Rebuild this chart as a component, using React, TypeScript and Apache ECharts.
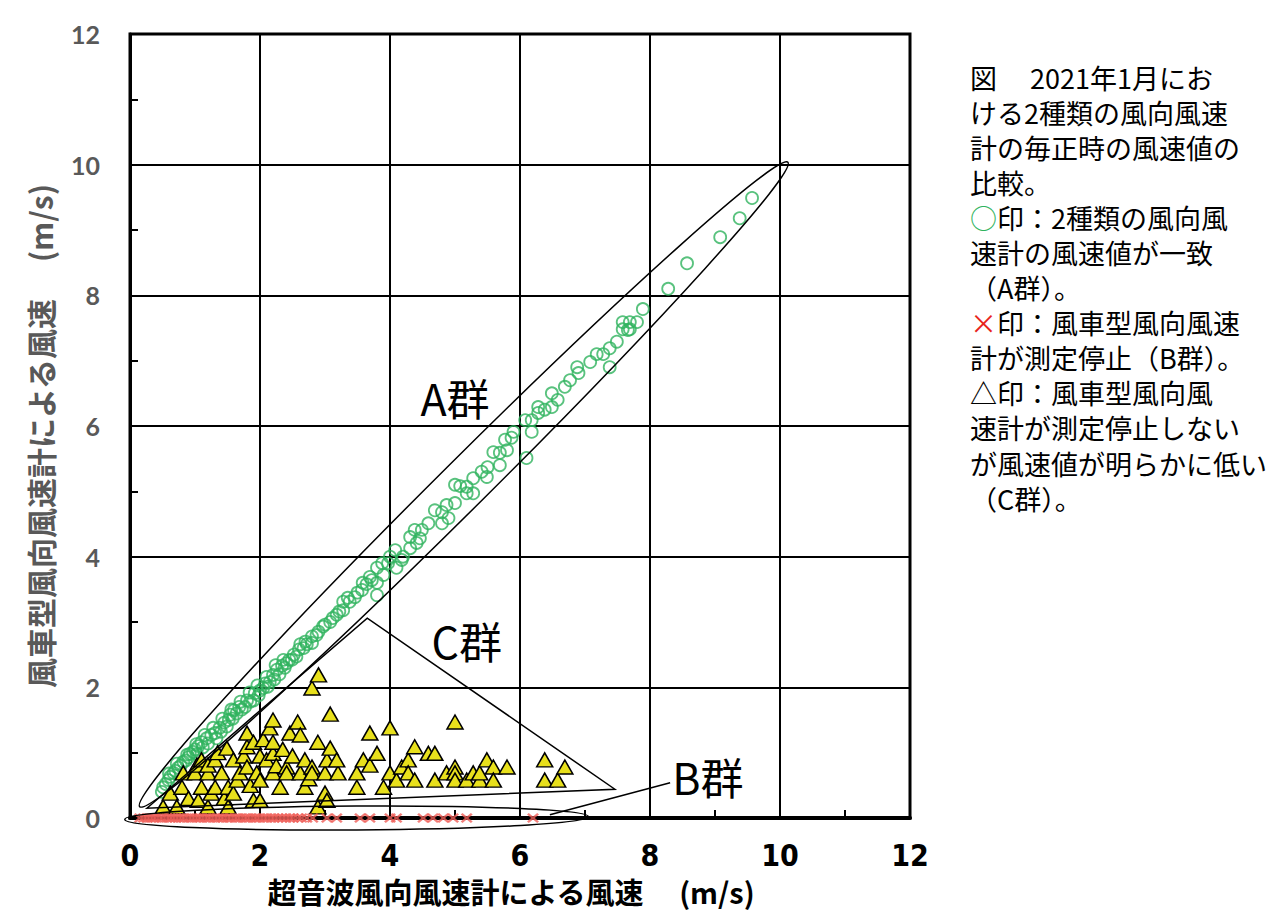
import React, { useEffect, useRef } from "react";
import * as echarts from "echarts";

// ---- data ----
const axisMin = 0;
const axisMax = 12;
const axisStep = 2;

// A群: both anemometers agree (green hollow circles)
const groupA: number[][] = [
  [0.49, 0.40], [0.51, 0.47], [0.55, 0.52], [0.59, 0.58], [0.62, 0.63], [0.67, 0.69], [0.70, 0.72],
  [0.74, 0.77], [0.78, 0.80], [0.82, 0.86], [0.86, 0.88], [0.90, 0.93], [0.92, 0.98], [0.97, 1.01],
  [1.00, 1.05], [1.03, 0.98], [1.05, 1.10], [1.10, 1.16], [1.12, 1.08], [1.18, 1.22], [1.20, 1.14],
  [1.25, 1.27], [1.31, 1.30], [1.33, 1.22], [1.38, 1.38], [1.40, 1.32], [1.45, 1.46], [1.49, 1.40],
  [1.52, 1.50], [1.54, 1.58], [1.58, 1.52], [1.60, 1.65], [1.64, 1.60], [1.68, 1.70], [1.72, 1.66],
  [1.77, 1.70], [1.80, 1.80], [1.85, 1.78], [1.90, 1.80], [1.92, 1.91], [1.98, 1.88], [2.00, 1.95],
  [2.05, 1.99], [2.08, 2.06], [2.12, 2.01], [2.15, 2.08], [2.20, 2.19], [2.22, 2.12], [2.26, 2.27],
  [2.30, 2.20], [2.34, 2.33], [2.38, 2.30], [2.41, 2.37], [2.45, 2.42], [2.49, 2.42], [2.52, 2.50],
  [2.56, 2.47], [2.60, 2.58], [2.62, 2.66], [2.67, 2.60], [2.70, 2.70], [2.72, 2.66], [2.80, 2.68],
  [2.80, 2.78], [2.87, 2.80], [2.90, 2.85], [2.97, 2.93], [3.00, 2.96], [3.08, 3.00], [3.12, 3.06],
  [3.18, 3.11], [3.22, 3.16], [3.28, 3.18], [3.28, 3.31], [3.35, 3.37], [3.38, 3.31], [3.46, 3.38],
  [3.50, 3.45], [3.57, 3.49], [3.58, 3.60], [3.64, 3.58], [3.69, 3.69], [3.72, 3.64], [3.80, 3.60],
  [3.80, 3.41], [3.80, 3.83], [3.88, 3.90], [3.90, 3.72], [3.97, 3.90], [4.00, 4.00], [4.08, 4.10],
  [4.10, 3.83], [4.18, 3.95], [4.20, 4.00], [4.31, 4.13], [4.31, 4.30], [4.38, 4.41], [4.41, 4.21],
  [4.46, 4.28], [4.49, 4.41], [4.59, 4.51], [4.69, 4.71], [4.80, 4.51], [4.80, 4.68], [4.87, 4.79],
  [4.90, 4.59], [5.00, 4.82], [5.00, 5.10], [5.08, 5.08], [5.18, 4.97], [5.18, 5.07], [5.28, 4.97],
  [5.28, 5.20], [5.41, 5.30], [5.49, 5.22], [5.50, 5.37], [5.59, 5.60], [5.69, 5.40], [5.69, 5.59],
  [5.77, 5.79], [5.80, 5.63], [5.87, 5.82], [5.90, 5.91], [6.08, 6.09], [6.10, 5.51], [6.18, 5.91],
  [6.18, 6.09], [6.28, 6.29], [6.28, 6.20], [6.38, 6.25], [6.49, 6.50], [6.49, 6.29], [6.58, 6.40],
  [6.69, 6.60], [6.77, 6.70], [6.88, 6.90], [6.90, 6.81], [7.08, 6.98], [7.18, 7.10], [7.28, 7.10],
  [7.38, 7.19], [7.38, 6.90], [7.49, 7.29], [7.58, 7.59], [7.58, 7.48], [7.66, 7.47], [7.69, 7.59],
  [7.69, 7.48], [7.80, 7.59], [7.89, 7.79], [8.28, 8.10], [8.57, 8.49], [9.08, 8.89], [9.38, 9.18],
  [9.57, 9.49],
  [0.60, 0.68], [0.72, 0.83], [0.88, 0.97], [1.02, 1.13], [1.15, 1.27], [1.28, 1.38], [1.42, 1.52],
  [1.56, 1.66], [1.70, 1.78], [1.84, 1.92], [1.96, 2.03], [2.10, 2.16], [2.24, 2.34], [2.36, 2.42],
];

// C群: wind-turbine anemometer clearly low (yellow triangles)
const groupC: number[][] = [
  [0.51, 0.17], [0.62, 0.38], [0.72, 0.17], [0.80, 0.47], [0.82, 0.69], [0.90, 0.30], [1.00, 0.69],
  [1.03, 0.81], [1.05, 0.27], [1.10, 0.47], [1.10, 0.89], [1.20, 0.17], [1.20, 0.69], [1.20, 0.81],
  [1.25, 0.38], [1.31, 0.47], [1.31, 0.89], [1.35, 1.00], [1.41, 0.69], [1.45, 0.30], [1.49, 1.07],
  [1.51, 0.17], [1.51, 0.47], [1.59, 0.89], [1.59, 0.38], [1.65, 0.58], [1.69, 0.69], [1.75, 0.95],
  [1.80, 0.78], [1.80, 1.09], [1.80, 1.30], [1.85, 0.50], [1.90, 0.27], [1.90, 1.16], [1.95, 0.69],
  [2.00, 0.27], [2.00, 0.58], [2.00, 0.95], [2.05, 1.20], [2.10, 0.89], [2.15, 1.38], [2.20, 0.69],
  [2.20, 0.99], [2.20, 1.16], [2.20, 1.50], [2.25, 0.80], [2.31, 0.47], [2.35, 1.05], [2.41, 0.78],
  [2.41, 0.69], [2.46, 1.30], [2.50, 0.95], [2.58, 1.47], [2.62, 0.69], [2.62, 1.27], [2.69, 0.47],
  [2.69, 0.89], [2.75, 0.60], [2.80, 0.78], [2.80, 0.69], [2.80, 1.99], [2.89, 0.17], [2.89, 1.16],
  [2.90, 2.19], [3.00, 0.38], [3.00, 0.69], [3.03, 0.27], [3.03, 0.89], [3.08, 1.07], [3.08, 1.59],
  [3.20, 0.69], [3.18, 0.89], [3.49, 0.47], [3.49, 0.69], [3.59, 0.89], [3.69, 0.81], [3.69, 1.30],
  [3.80, 0.99], [3.90, 0.47], [4.00, 0.69], [4.00, 1.38], [4.10, 0.58], [4.18, 0.78], [4.28, 0.89],
  [4.28, 0.69], [4.38, 1.09], [4.38, 0.58], [4.59, 0.99], [4.69, 0.99], [4.69, 0.58], [4.87, 0.69],
  [5.00, 0.78], [5.00, 0.69], [5.00, 0.58], [5.00, 1.47], [5.18, 0.58], [5.28, 0.69], [5.38, 0.58],
  [5.38, 0.69], [5.49, 0.89], [5.59, 0.78], [5.59, 0.58], [5.80, 0.78], [6.38, 0.89], [6.38, 0.58],
  [6.58, 0.58], [6.69, 0.78],
];

// B群: wind-turbine anemometer stopped (red crosses, y = 0)
const groupBX: number[] = [
  0.15, 0.21, 0.26, 0.31, 0.36, 0.40, 0.46, 0.50, 0.56, 0.61, 0.65, 0.70, 0.75, 0.80, 0.84, 0.90,
  0.95, 1.00, 1.05, 1.09, 1.15, 1.20, 1.24, 1.30, 1.35, 1.40, 1.44, 1.50, 1.55, 1.61, 1.65, 1.70,
  1.76, 1.80, 1.85, 1.91, 1.95, 2.00, 2.06, 2.11, 2.17, 2.22, 2.28, 2.34, 2.40, 2.46, 2.51, 2.58,
  2.64, 2.72, 2.81, 3.03, 3.18, 3.54, 3.69, 4.00, 4.10, 4.51, 4.66, 4.82, 4.97, 5.18, 6.20,
];
const groupBY: number[] = groupBX.map(() => 0);

const legendLines: string[] = [
  "図　 2021年1月にお",
  "ける2種類の風向風速",
  "計の毎正時の風速値の",
  "比較。",
  "{g|○}印：2種類の風向風",
  "速計の風速値が一致",
  "（A群）。",
  "{r|×}印：風車型風向風速",
  "計が測定停止（B群）。",
  "△印：風車型風向風",
  "速計が測定停止しない",
  "が風速値が明らかに低い",
  "（C群）。",
];

const xTitle = "超音波風向風速計による風速　 (m/s)";
const yTitle = "風車型風向風速計による風速　 (m/s)";

const GREEN = "#2fb35e";
const YELLOW = "#e8e01c";
const RED = "#f0605a";
const GRAY = "#595959";
const JP = "'Noto Sans CJK JP', 'Noto Sans', sans-serif";
const CROSS = "path://M0,1.5L1.5,0L5,3.5L8.5,0L10,1.5L6.5,5L10,8.5L8.5,10L5,6.5L1.5,10L0,8.5L3.5,5Z";

export default function App() {
  const ref = useRef<HTMLDivElement>(null);
  useEffect(() => {
    const chart = echarts.init(ref.current as HTMLDivElement, undefined, { renderer: "svg" });
    const axisCommon = {
      type: "value",
      min: axisMin,
      max: axisMax,
      interval: axisStep,
      axisLine: { show: true, onZero: false, lineStyle: { color: "#000", width: 3 } },
      axisTick: { show: true, inside: true, length: 8, lineStyle: { color: "#000", width: 2 } },
      minorTick: { show: true, splitNumber: 2, length: 8, lineStyle: { color: "#000", width: 2 } },
      splitLine: { show: true, lineStyle: { color: "#000", width: 2 } },
    };
    chart.setOption({
      animation: false,
      backgroundColor: "#fff",
      grid: {
        left: 130, top: 34, width: 780, height: 784,
        show: true, borderColor: "#000", borderWidth: 3, backgroundColor: "transparent",
      },
      xAxis: {
        ...axisCommon,
        axisLine: { show: true, onZero: false, lineStyle: { color: "#000", width: 4 } },
        axisLabel: {
          color: "#000", fontSize: 30, fontWeight: "bold",
          fontFamily: "'Liberation Sans Narrow', 'DejaVu Sans Condensed', sans-serif", margin: 22,
        },
      },
      yAxis: {
        ...axisCommon,
        axisLabel: { color: GRAY, fontSize: 25, fontWeight: "bold", fontFamily: "Lato, sans-serif", margin: 30 },
      },
      series: [
        {
          type: "scatter", name: "A群", data: groupA, symbol: "circle", symbolSize: 12, clip: false,
          itemStyle: { color: "rgba(0,0,0,0)", borderColor: GREEN, borderWidth: 1.8 }, z: 3,
        },
        {
          type: "scatter", name: "C群", data: groupC, symbol: "triangle", symbolSize: [16, 14], clip: false,
          itemStyle: { color: YELLOW, borderColor: "#000", borderWidth: 1.5, opacity: 1 }, z: 4,
        },
        {
          type: "scatter", name: "B群", data: groupBX.map((x, i) => [x, groupBY[i]]),
          symbol: CROSS, symbolSize: [12, 10], clip: false,
          itemStyle: { color: RED, opacity: 0.8 }, z: 5,
        },
      ],
    });

    const px = (p: number[]) => chart.convertToPixel({ gridIndex: 0 }, p) as number[];
    const ellipseBetween = (a: number[], b: number[], ry: number) => {
      const p1 = px(a), p2 = px(b);
      const cx = (p1[0] + p2[0]) / 2, cy = (p1[1] + p2[1]) / 2;
      const rx = Math.hypot(p2[0] - p1[0], p2[1] - p1[1]) / 2;
      const rot = Math.atan2(-(p2[1] - p1[1]), p2[0] - p1[0]);
      return {
        type: "ellipse", x: cx, y: cy, rotation: rot, z: 100,
        shape: { cx: 0, cy: 0, rx, ry },
        style: { fill: "none", stroke: "#000", lineWidth: 1.5 },
      };
    };
    const tri = [px([0.26, 0.15]), px([3.65, 3.06]), px([7.46, 0.44])];
    const lead = [px([6.46, 0.05]), px([8.31, 0.54])];
    const label = (t: string, p: number[]) => {
      const q = px(p);
      return {
        type: "text", x: q[0], y: q[1], z: 101,
        style: { text: t, fontSize: 43, fontFamily: JP, fill: "#000", align: "center", verticalAlign: "middle" },
      };
    };
    const LH = 35.1;

    chart.setOption({
      graphic: [
        ellipseBetween([0.15, 0.17], [10.12, 10.04], 24),
        ellipseBetween([-0.08, -0.02], [7.05, 0.02], 12),
        {
          type: "polygon", z: 100,
          shape: { points: tri },
          style: { fill: "none", stroke: "#000", lineWidth: 1.5 },
        },
        {
          type: "line", z: 100,
          shape: { x1: lead[0][0], y1: lead[0][1], x2: lead[1][0], y2: lead[1][1] },
          style: { stroke: "#000", lineWidth: 1.5 },
        },
        label("A群", [5.0, 6.44]),
        label("C群", [5.18, 2.72]),
        label("B群", [8.89, 0.64]),
        {
          type: "text", x: 511, y: 891, z: 101,
          style: { text: xTitle, fontSize: 29, lineHeight: 32, fontWeight: "bold", fontFamily: JP, fill: "#000", align: "center", verticalAlign: "middle" },
        },
        {
          type: "text", x: 40, y: 436, rotation: Math.PI / 2, z: 101,
          style: { text: yTitle, fontSize: 30, fontWeight: "bold", fontFamily: JP, fill: GRAY, align: "center", verticalAlign: "middle" },
        },
        {
          type: "text", x: 970, y: 77 - LH / 2, z: 101,
          style: {
            text: legendLines.join("\n"), fontSize: 27, lineHeight: LH, fontFamily: JP, fill: "#000",
            align: "left", verticalAlign: "top",
            rich: {
              g: { fill: GREEN, fontSize: 27, lineHeight: LH, fontFamily: JP },
              r: { fill: "#e8231c", fontSize: 27, lineHeight: LH, fontFamily: JP },
            },
          },
        },
      ],
    });
    return () => chart.dispose();
  }, []);
  return <div ref={ref} style={{ position: "absolute", left: 0, top: 0, width: 1269, height: 911 }} />;
}
